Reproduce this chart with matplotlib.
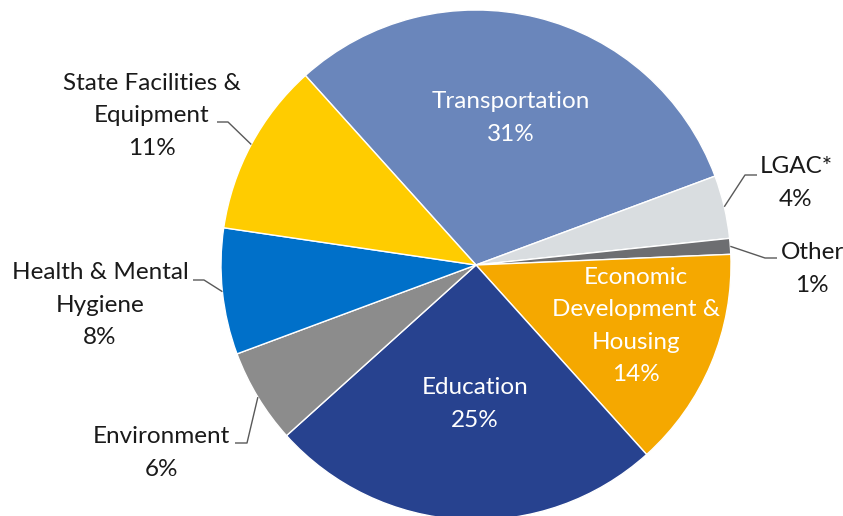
import matplotlib
matplotlib.use("Agg")
import matplotlib.pyplot as plt
import numpy as np

# Share of spending by program area (percent)
categories = ["Transportation", "LGAC*", "Other", "Economic\nDevelopment &\nHousing",
              "Education", "Environment", "Health & Mental\nHygiene",
              "State Facilities &\nEquipment"]
shares = [31, 4, 1, 14, 25, 6, 8, 11]
colors = ["#6A86BB", "#D9DDE0", "#6D6E71", "#F5A800", "#27428F", "#8C8C8C",
          "#0070C9", "#FFCC00"]

W, H = 843, 516
fig = plt.figure(figsize=(W / 100, H / 100), dpi=100)
ax = fig.add_axes([0, 0, 1, 1])

cx, cy, R = 476, H - 265, 255
wedges, _ = ax.pie(shares, colors=colors, startangle=132, counterclock=False,
                   center=(cx, cy), radius=R,
                   wedgeprops=dict(edgecolor="white", linewidth=1.0))
ax.set_xlim(0, W)
ax.set_ylim(0, H)
ax.set_aspect("equal")
ax.axis("off")

font = "Lato"
fs = 17.5
spacing = 1.66

def label_text(i):
    return f"{categories[i]}\n{shares[i]}%"

# Labels drawn inside their slices: (index, x, y) in pixel coordinates from the top
inside = [(0, 511, 118), (3, 636, 326), (4, 475, 404)]
for i, x, y in inside:
    ax.text(x, H - y, label_text(i), ha="center", va="center", color="white",
            fontsize=fs, family=font, linespacing=spacing)

# Labels outside the pie with leader lines: (index, text x, text y, elbow, end)
outside = [
    (7, 152, 116, (228, 122), (217, 122)),
    (6, 100, 305, (204, 280), (193, 280)),
    (5, 161, 453, (247, 443), (235, 443)),
    (1, 796, 183, (745, 175), (757, 175)),
    (2, 812, 269, (765, 258), (777, 258)),
]
for i, x, y, elbow, end in outside:
    ax.text(x, H - y, label_text(i), ha="center", va="center", color="#1a1a1a",
            fontsize=fs, family=font, linespacing=spacing)
    w = wedges[i]
    mid = np.deg2rad((w.theta1 + w.theta2) / 2)
    sx, sy = cx + R * np.cos(mid), cy + R * np.sin(mid)
    ax.plot([sx, elbow[0], end[0]], [sy, H - elbow[1], H - end[1]],
            color="#595959", linewidth=1.0, solid_capstyle="butt")

fig.savefig("out.png", dpi=100)
